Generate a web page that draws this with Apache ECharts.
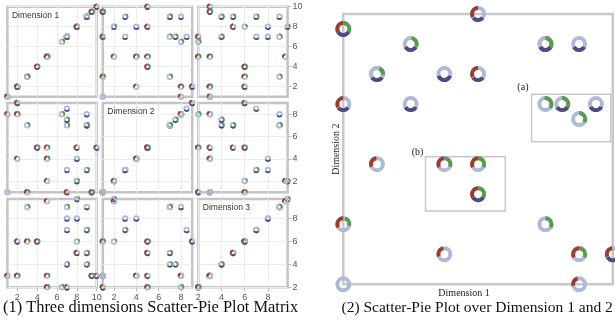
<!DOCTYPE html>
<html>
<head>
<meta charset="utf-8">
<script src="https://cdn.jsdelivr.net/npm/echarts@6/dist/echarts.min.js"></script>
<style>
  html, body { margin: 0; padding: 0; background: #ffffff; }
  #chart { width: 615px; height: 322px; }
</style>
</head>
<body>
<div id="chart"></div>
<script>
// Each record: its value on the three dimensions and the share of the
// red, green and purple classes; the remainder of the ring is light blue.
const dim1 = [10, 9.5, 9, 9, 9, 9, 8, 8, 8, 8, 7, 7, 7, 7, 7, 6.5, 5, 5, 5, 4, 3, 3, 2, 2, 2, 1, 1];
const dim2 = [5, 1, 3, 7, 7, 8, 2, 2, 4, 5, 1, 3, 7, 7.5, 8.5, 8, 2, 4, 5, 5, 1, 7, 4, 8, 9, 1, 8];
const dim3 = [3, 3, 7, 4, 5, 9, 6, 9.7, 8, 5, 2, 8, 9, 4, 7, 2, 9.5, 3, 2, 6, 6, 9, 3, 3, 6, 3, 3];
const shareRed    = [0.33, 0.33, 0, 0, 0, 0, 0, 0, 0, 0.33, 0.33, 0, 0, 0, 0, 0, 0.3, 0.33, 0.33, 0.33, 0.33, 0, 0.28, 0.33, 0.3, 0, 0.25];
const shareGreen  = [0, 0.33, 0.28, 0.33, 0.33, 0, 0.2, 0.2, 0, 0, 0, 0, 0.37, 0.35, 0, 0.33, 0, 0.3, 0.33, 0.33, 0.25, 0.33, 0, 0.33, 0, 0, 0];
const sharePurple = [0.28, 0.33, 0.33, 0.33, 0.33, 0.33, 0, 0.3, 0.4, 0.3, 0.3, 0.33, 0, 0.33, 0.35, 0, 0, 0, 0, 0.33, 0, 0, 0, 0, 0.33, 0, 0];

const dimNames = ['Dimension 1', 'Dimension 2', 'Dimension 3'];
const tickValues = [[2, 4, 6, 8, 10], [2, 4, 6, 8], [2, 4, 6, 8]];

// Highlighted regions of the dimension 1 / dimension 2 view: [x1, y1, x2, y2]
const regionNames = ['(a)', '(b)'];
const regionBoxes = [[6.59, 5.75, 8.94, 7.33], [3.44, 3.44, 5.81, 5.25]];

const COLOR = { red: '#9b3c2f', green: '#5b9a4b', purple: '#4f4a7f', blue: '#adbad5' };
const dims = [dim1, dim2, dim3];
const extents = dims.map(d => [Math.min(...d), Math.max(...d)]);

function ringRenderer(outerR, innerR) {
  return function (params, api) {
    const c = api.coord([api.value(0), api.value(1)]);
    const parts = [
      { frac: 1, center: 0, color: COLOR.blue },
      { frac: api.value(2), center: -5 * Math.PI / 6, color: COLOR.red },
      { frac: api.value(3), center: -Math.PI / 6, color: COLOR.green },
      { frac: api.value(4), center: Math.PI / 2, color: COLOR.purple }
    ];
    const children = [];
    parts.forEach(p => {
      if (p.frac <= 0) return;
      const half = p.frac * Math.PI;
      children.push({
        type: 'sector',
        shape: {
          cx: c[0], cy: c[1], r: outerR, r0: innerR,
          startAngle: p.frac >= 1 ? 0 : p.center - half,
          endAngle: p.frac >= 1 ? Math.PI * 2 : p.center + half,
          clockwise: true
        },
        style: { fill: p.color }
      });
    });
    return { type: 'group', children: children };
  };
}

function recordsOn(xDim, yDim) {
  return dim1.map((_, n) => [dims[xDim][n], dims[yDim][n], shareRed[n], shareGreen[n], sharePurple[n]]);
}

// Scatter-pie matrix layout (pixels)
const COLS = [{ left: 7.4, width: 89.3 }, { left: 102.8, width: 89.4 }, { left: 198.3, width: 89.3 }];
const ROWS = [{ top: 6.7, height: 90 }, { top: 103, height: 89.2 }, { top: 199, height: 88.3 }];

const grid = [], xAxis = [], yAxis = [], series = [], graphic = [];
const tickLabelStyle = { fontFamily: 'Liberation Sans, Arial, sans-serif', fontSize: 9, color: '#555' };

for (let i = 0; i < 3; i++) {
  for (let j = 0; j < 3; j++) {
    const k = grid.length;
    grid.push({
      left: COLS[j].left, top: ROWS[i].top, width: COLS[j].width, height: ROWS[i].height,
      show: true, borderColor: '#c4c4c4', borderWidth: 2.5, backgroundColor: 'transparent'
    });
    xAxis.push({
      gridIndex: k, type: 'value', min: extents[j][0], max: extents[j][1],
      axisLine: { show: false },
      axisTick: { show: i === 2, customValues: tickValues[j], length: 4, lineStyle: { color: '#bdbdbd' } },
      axisLabel: Object.assign({ show: i === 2, customValues: tickValues[j], margin: 6 }, tickLabelStyle),
      splitLine: { show: true, lineStyle: { color: '#ececec', width: 1 } }
    });
    yAxis.push({
      gridIndex: k, type: 'value', position: 'right', min: extents[i][0], max: extents[i][1],
      axisLine: { show: false },
      axisTick: { show: j === 2, customValues: tickValues[i], length: 4, lineStyle: { color: '#bdbdbd' } },
      axisLabel: Object.assign({ show: j === 2, customValues: tickValues[i], margin: 5 }, tickLabelStyle),
      splitLine: { show: true, lineStyle: { color: '#ececec', width: 1 } }
    });
    series.push({
      type: 'custom', xAxisIndex: k, yAxisIndex: k,
      renderItem: ringRenderer(3.2, 1.5),
      encode: { x: 0, y: 1 },
      data: recordsOn(j, i),
      z: 3
    });
    if (i === j) {
      graphic.push({
        type: 'text', left: COLS[j].left + 3.5, top: ROWS[i].top + 3.5, z: 10,
        style: {
          text: dimNames[i], font: '8.5px "Liberation Sans", Arial, sans-serif', fill: '#333',
          backgroundColor: '#fff', padding: [1, 1]
        }
      });
    }
  }
}

// Dimension 1 / dimension 2 view
const mainIdx = grid.length;
grid.push({
  left: 343.3, top: 14, width: 269.5, height: 270.3,
  show: true, borderColor: '#c8c8c8', borderWidth: 2.5, backgroundColor: 'transparent'
});
xAxis.push({
  gridIndex: mainIdx, type: 'value', min: extents[1][0], max: extents[1][1],
  axisLine: { show: false }, axisTick: { show: false }, axisLabel: { show: false }, splitLine: { show: false },
  name: 'Dimension 1', nameLocation: 'middle', nameGap: 4,
  nameTextStyle: { fontFamily: 'Liberation Serif, Times New Roman, serif', fontSize: 10, color: '#222', padding: [0, 28, 0, 0] }
});
yAxis.push({
  gridIndex: mainIdx, type: 'value', min: extents[0][0], max: extents[0][1],
  axisLine: { show: false }, axisTick: { show: false }, axisLabel: { show: false }, splitLine: { show: false },
  name: 'Dimension 2', nameLocation: 'middle', nameGap: 2, nameRotate: 90,
  nameTextStyle: { fontFamily: 'Liberation Serif, Times New Roman, serif', fontSize: 10, color: '#222', padding: [0, 0, 0, 0] }
});
const labelOffsets = [[-13.5, -11], [-13, -8.5]];
series.push({
  type: 'custom', xAxisIndex: mainIdx, yAxisIndex: mainIdx,
  renderItem: ringRenderer(8, 4),
  encode: { x: 0, y: 1 },
  data: recordsOn(1, 0),
  z: 3,
  markArea: {
    silent: true,
    itemStyle: { color: 'transparent', borderColor: '#c8c8c8', borderWidth: 1.5 },
    label: { fontFamily: 'Liberation Serif, Times New Roman, serif', fontSize: 10, color: '#222' },
    data: regionBoxes.map((b, n) => [
      { name: regionNames[n], coord: [b[0], b[3]], label: { position: labelOffsets[n] } },
      { coord: [b[2], b[1]] }
    ])
  }
});

graphic.push({
  type: 'text', left: 3, top: 299.5,
  style: { text: '(1) Three dimensions Scatter-Pie Plot Matrix', font: '16.4px "Liberation Serif", "Times New Roman", serif', fill: '#111' }
});
graphic.push({
  type: 'text', left: 341.5, top: 300,
  style: { text: '(2) Scatter-Pie Plot over Dimension 1 and 2', font: '15.5px "Liberation Serif", "Times New Roman", serif', fill: '#111' }
});

const chart = echarts.init(document.getElementById('chart'), null, { renderer: 'canvas' });
chart.setOption({
  animation: false,
  backgroundColor: '#ffffff',
  grid: grid, xAxis: xAxis, yAxis: yAxis, series: series, graphic: graphic
});
</script>
</body>
</html>
